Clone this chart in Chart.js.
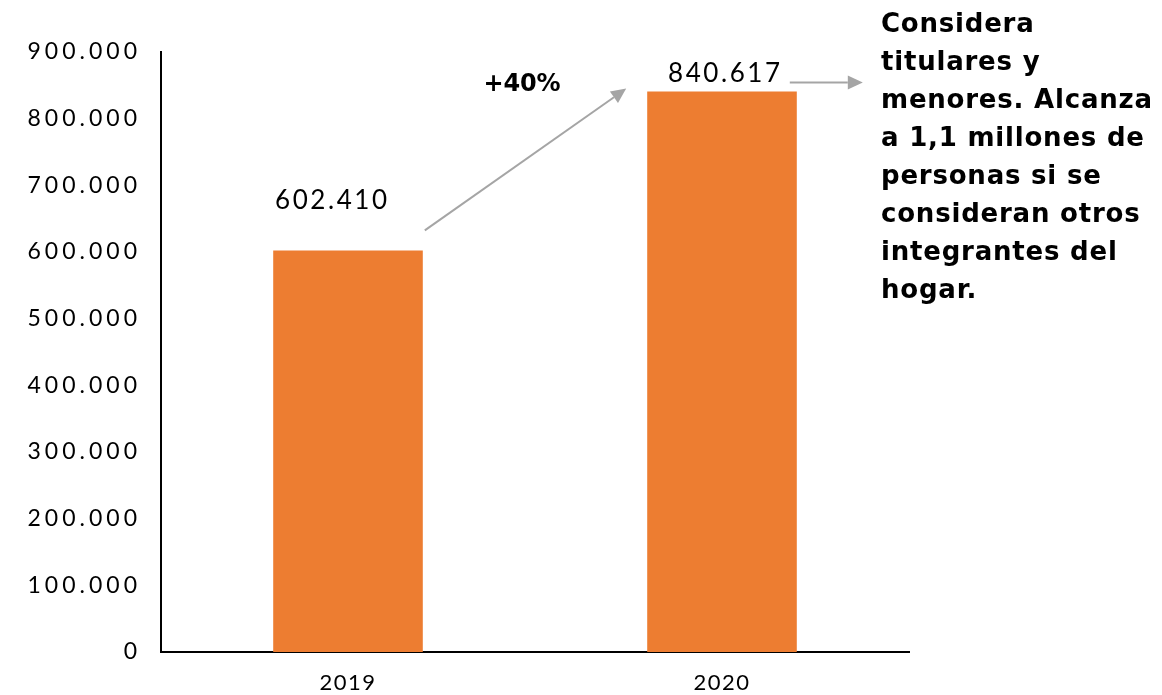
<!DOCTYPE html>
<html>
<head>
<meta charset="utf-8">
<script src="https://cdn.jsdelivr.net/npm/chart.js@4.4.1/dist/chart.umd.min.js"></script>
<style>
  html, body { margin: 0; padding: 0; background: #ffffff; }
  #wrap { width: 1162px; height: 695px; position: relative; }
  canvas { display: block; }
</style>
</head>
<body>
<div id="wrap"><canvas id="c" width="1162" height="695"></canvas></div>
<script>
// ---- data ----
const categories = ['2019', '2020'];
const values = [602410, 840617];
const yMin = 0;
const yMax = 900000;
const yStep = 100000;
const growthLabel = '+40%';
const noteLines = [
  'Considera',
  'titulares y',
  'menores. Alcanza',
  'a 1,1 millones de',
  'personas si se',
  'consideran otros',
  'integrantes del',
  'hogar.'
];

// ---- styles ----
const FONT = 'Lato, "DejaVu Sans", sans-serif';
const BOLD_FONT = '"DejaVu Sans", Lato, sans-serif';
const BAR_COLOR = '#ED7D31';
const ARROW_COLOR = '#A5A5A5';

function fmt(v) {
  return String(v).replace(/\B(?=(\d{3})+(?!\d))/g, '.');
}

function fitSpacing(ctx, text, target) {
  const prev = ctx.letterSpacing;
  ctx.letterSpacing = '0px';
  const w = ctx.measureText(text).width;
  ctx.letterSpacing = prev;
  return (target - w) / Math.max(1, text.length - 1);
}

function spacedText(ctx, text, x, y, align, spacing) {
  ctx.letterSpacing = spacing + 'px';
  const w = ctx.measureText(text).width - spacing;
  let left = x;
  if (align === 'center') left = x - w / 2;
  else if (align === 'right') left = x - w;
  ctx.textAlign = 'left';
  ctx.fillText(text, left, y);
  ctx.letterSpacing = '0px';
}

function arrow(ctx, x1, y1, x2, y2) {
  const ang = Math.atan2(y2 - y1, x2 - x1);
  const hl = 15, hw = 7;
  const bx = x2 - hl * Math.cos(ang), by = y2 - hl * Math.sin(ang);
  ctx.strokeStyle = ARROW_COLOR;
  ctx.fillStyle = ARROW_COLOR;
  ctx.lineWidth = 2;
  ctx.beginPath();
  ctx.moveTo(x1, y1);
  ctx.lineTo(bx, by);
  ctx.stroke();
  ctx.beginPath();
  ctx.moveTo(x2, y2);
  ctx.lineTo(bx + hw * Math.sin(ang), by - hw * Math.cos(ang));
  ctx.lineTo(bx - hw * Math.sin(ang), by + hw * Math.cos(ang));
  ctx.closePath();
  ctx.fill();
}

// letter spacing per scale (wrap scale draw)
const spacingPlugin = {
  id: 'scaleSpacing',
  beforeLayout(chart) {
    const spec = { x: 1.5, y: 4 };
    Object.keys(spec).forEach(id => {
      const s = chart.scales[id];
      if (s && !s.__wrapped) {
        const orig = Object.getPrototypeOf(s).draw;
        s.draw = function (area) {
          const c = this.ctx;
          c.save();
          c.letterSpacing = spec[id] + 'px';
          orig.call(this, area);
          c.restore();
        };
        s.__wrapped = true;
      }
    });
  }
};

const annotationPlugin = {
  id: 'annotations',
  afterDatasetsDraw(chart) {
    const ctx = chart.ctx;
    const meta = chart.getDatasetMeta(0);
    const b1 = meta.data[0], b2 = meta.data[1];
    const w1 = b1.width, w2 = b2.width;
    const area = chart.chartArea;
    ctx.save();
    ctx.fillStyle = '#000000';
    ctx.textBaseline = 'alphabetic';

    // value labels
    ctx.font = '26px ' + FONT;
    const sp = fitSpacing(ctx, fmt(values[0]), 112);
    spacedText(ctx, fmt(values[0]), b1.x - 17, b1.y - 41, 'center', sp);
    spacedText(ctx, fmt(values[1]), b2.x + 2, b2.y - 10, 'center', sp);

    // growth label
    ctx.font = 'bold 24px ' + BOLD_FONT;
    const sg = fitSpacing(ctx, growthLabel, 77);
    spacedText(ctx, growthLabel, (b1.x + b2.x) / 2 - 13, b2.y - 1, 'center', sg);

    // arrows
    arrow(ctx, b1.x + w1 / 2 + 2, b1.y - 20, b2.x - w2 / 2 - 21, b2.y - 3);
    arrow(ctx, b2.x + w2 / 2 - 7, b2.y - 9, b2.x + w2 / 2 + 66, b2.y - 9);

    // note text
    ctx.fillStyle = '#000000';
    ctx.font = 'bold 26px ' + BOLD_FONT;
    const sn = fitSpacing(ctx, noteLines[2], 271);
    const nx = area.right - 28;
    noteLines.forEach((line, i) => {
      spacedText(ctx, line, nx, 32 + i * 38, 'left', sn);
    });
    ctx.restore();
  }
};

const ctx = document.getElementById('c').getContext('2d');
new Chart(ctx, {
  type: 'bar',
  data: {
    labels: categories,
    datasets: [{
      data: values,
      backgroundColor: BAR_COLOR,
      borderWidth: 0,
      categoryPercentage: 1.0,
      barPercentage: 0.4
    }]
  },
  options: {
    responsive: false,
    animation: false,
    devicePixelRatio: 1,
    layout: { padding: { top: 52, right: 253, bottom: 0, left: 0 } },
    plugins: {
      legend: { display: false },
      tooltip: { enabled: false },
      title: { display: false }
    },
    scales: {
      x: {
        grid: { display: false, drawTicks: false },
        border: { display: true, color: '#000000', width: 2 },
        ticks: {
          color: '#000000',
          font: { family: FONT, size: 22 },
          padding: 18
        },
        afterFit(scale) { scale.height = 43; }
      },
      y: {
        min: yMin,
        max: yMax,
        grid: { display: false, drawTicks: false },
        border: { display: true, color: '#000000', width: 2 },
        ticks: {
          stepSize: yStep,
          color: '#000000',
          font: { family: FONT, size: 23 },
          padding: 20,
          callback: (v) => fmt(v)
        },
        afterFit(scale) { scale.width = 161; }
      }
    }
  },
  plugins: [spacingPlugin, annotationPlugin]
});
</script>
</body>
</html>
